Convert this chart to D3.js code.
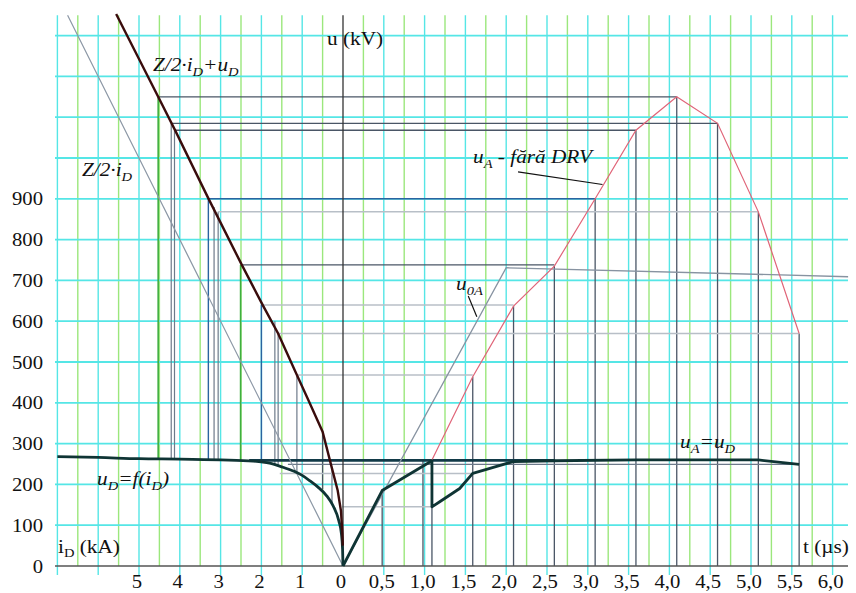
<!DOCTYPE html>
<html>
<head>
<meta charset="utf-8">
<script src="https://cdn.jsdelivr.net/npm/d3@7"></script>
<style>
  body { margin: 0; background: #fff; }
  svg text { font-family: "Liberation Serif", "Times New Roman", serif; fill: #111; }
</style>
</head>
<body>
<svg id="chart" width="856" height="593"></svg>
<script>
// ---------------- data (i in kA, t in us, u in kV) ----------------
var uTicks = [0, 100, 200, 300, 400, 500, 600, 700, 800, 900];
var iTicks = [5, 4, 3, 2, 1, 0];
var tTicks = [0.5, 1, 1.5, 2, 2.5, 3, 3.5, 4, 4.5, 5, 5.5, 6];
var tTickLabels = ["0,5", "1,0", "1,5", "2,0", "2,5", "3,0", "3,5", "4,0", "4,5", "5,0", "5,5", "6,0"];

// u_D = f(i_D)
var uD = [[7.0, 268], [6, 266], [5, 263], [4, 262], [3, 260], [2.2, 257], [1.8, 252], [1.5, 243],
          [1.2, 232], [1.0, 222], [0.8, 208], [0.62, 194], [0.4, 172], [0.24, 147], [0.1, 110],
          [0.04, 80], [0.01, 40], [0, 0]];
// Z/2*i_D + u_D
var sumCurve = [[5.56, 1353], [4.53, 1150], [4.12, 1069], [3.30, 901], [2.48, 738], [1.97, 640],
                [1.59, 570], [1.13, 468], [0.85, 407], [0.5, 329], [0.28, 243], [0.13, 185],
                [0.05, 135], [0.015, 80], [0.005, 50]];
// Z/2*i_D
var zLine = [[0, 0], [6.75, 1350]];
// u_0A
var u0A = [[0, 0], [2.0, 731], [6.19, 709]];
// u_A without DRV
var uA = [[1.09, 260], [1.59, 464], [2.09, 637], [2.59, 735], [3.09, 900], [3.59, 1068],
          [4.09, 1150], [4.59, 1085], [5.09, 868], [5.59, 570]];
// u_A = u_D
var uAD = [[0, 0], [0.48, 185], [1.09, 258], [1.09, 145], [1.19, 158], [1.43, 190], [1.59, 227],
           [2.09, 256], [2.6, 258], [3.6, 260], [5.09, 260], [5.59, 249]];

// construction: horizontal [u, i left, t right, kind]
var hLines = [
  [1150, 4.53, 4.09, "dark"], [1085, 4.21, 4.59, "dark"], [1068, 4.13, 3.59, "dark"],
  [900, 3.30, 3.09, "blue"], [868, 3.06, 5.09, "light"], [738, 2.48, 2.59, "dark"],
  [640, 1.97, 2.09, "light"], [570, 1.59, 5.59, "light"], [468, 1.13, 1.59, "light"],
  [249, 1.35, 5.59, "mid"], [227, 1.55, 1.59, "light"], [145, 0.02, 1.09, "light"],
  [259, 2.3, 2.6, "thick"]
];
// construction: left verticals [i, u top, u bottom, kind]
var vLeft = [
  [4.53, 1150, 262, "green"], [4.21, 1085, 262, "mid"], [4.13, 1068, 262, "mid"],
  [3.30, 901, 260, "blue"], [3.16, 880, 260, "mid"], [3.06, 868, 260, "mid"],
  [2.51, 738, 258, "green"], [2.0, 640, 256, "blue"], [1.67, 600, 250, "mid"],
  [1.59, 570, 247, "mid"], [1.13, 468, 228, "mid"], [0.5, 329, 188, "dark"],
  [0.27, 243, 150, "mid"]
];
// construction: right verticals [t, u top] down to the time axis
var vRight = [[0.48, 185], [0.98, 258], [1.09, 260], [1.59, 464], [2.09, 637], [2.59, 735],
              [3.09, 900], [3.59, 1068], [4.09, 1150], [4.59, 1085], [5.09, 868], [5.59, 570]];

// ---------------- scales ----------------
var cell = 40.8;
var x0 = 343, y0 = 566;
var xi = d3.scaleLinear().domain([0, 7]).range([x0, x0 - 7 * cell]);
var xt = d3.scaleLinear().domain([0, 6]).range([x0, x0 + 12 * cell]);
var y = d3.scaleLinear().domain([0, 1350]).range([y0, y0 - 13.5 * cell]);
var yTop = y(1350);
var stretch = 1.12;   // text in the picture is a bit wider than plain Times

var svg = d3.select("#chart");

var colors = {
  dark: "#4a5666", mid: "#6d7a8a", light: "#b8bfc7", blue: "#2a64a0",
  green: "#3fae3f", thick: "#123a48"
};
var widths = { dark: 1.3, mid: 1.2, light: 1.5, blue: 1.4, green: 1.6, thick: 2.6 };

// ---------------- grid ----------------
var g = svg.append("g");
var greenI = d3.range(0.5, 7, 1), greenT = d3.range(0.25, 6, 0.5);
greenI.forEach(function(v) {
  g.append("line").attr("x1", xi(v)).attr("x2", xi(v)).attr("y1", yTop).attr("y2", y0)
    .attr("stroke", "#9be77c").attr("stroke-width", 1.4);
});
greenT.forEach(function(v) {
  g.append("line").attr("x1", xt(v)).attr("x2", xt(v)).attr("y1", yTop).attr("y2", y0)
    .attr("stroke", "#9be77c").attr("stroke-width", 1.4);
});
d3.range(1, 8).forEach(function(v) {
  g.append("line").attr("x1", xi(v)).attr("x2", xi(v)).attr("y1", yTop).attr("y2", y0 + 9)
    .attr("stroke", "#55e6e6").attr("stroke-width", 1.4);
});
d3.range(0.5, 6.01, 0.5).forEach(function(v) {
  g.append("line").attr("x1", xt(v)).attr("x2", xt(v)).attr("y1", yTop).attr("y2", y0 + 9)
    .attr("stroke", "#55e6e6").attr("stroke-width", 1.4);
});
d3.range(100, 1301, 100).forEach(function(v) {
  g.append("line").attr("x1", 55).attr("x2", 848).attr("y1", y(v)).attr("y2", y(v))
    .attr("stroke", "#55e6e6").attr("stroke-width", 1.8);
});

// ---------------- construction lines ----------------
var c = svg.append("g").attr("fill", "none");
vRight.forEach(function(d) {
  c.append("line").attr("x1", xt(d[0])).attr("x2", xt(d[0])).attr("y1", y(d[1])).attr("y2", y0)
    .attr("stroke", colors.dark).attr("stroke-width", 1.3);
});
vLeft.forEach(function(d) {
  c.append("line").attr("x1", xi(d[0])).attr("x2", xi(d[0])).attr("y1", y(d[1])).attr("y2", y(d[2]))
    .attr("stroke", colors[d[3]]).attr("stroke-width", widths[d[3]]);
});
hLines.forEach(function(d) {
  c.append("line").attr("x1", xi(d[1])).attr("x2", xt(d[2])).attr("y1", y(d[0])).attr("y2", y(d[0]))
    .attr("stroke", colors[d[3]]).attr("stroke-width", widths[d[3]]);
});

// ---------------- axes ----------------
svg.append("line").attr("x1", 55).attr("x2", 848).attr("y1", y0).attr("y2", y0)
  .attr("stroke", "#555").attr("stroke-width", 1.6);
svg.append("line").attr("x1", x0).attr("x2", x0).attr("y1", yTop).attr("y2", y0)
  .attr("stroke", "#333").attr("stroke-width", 1.3);

// ---------------- curves ----------------
var lineL = d3.line().x(function(d) { return xi(d[0]); }).y(function(d) { return y(d[1]); });
var lineR = d3.line().x(function(d) { return xt(d[0]); }).y(function(d) { return y(d[1]); });
var lineLs = d3.line().curve(d3.curveMonotoneX).x(function(d) { return xi(d[0]); }).y(function(d) { return y(d[1]); });

svg.append("path").attr("d", lineL(zLine)).attr("fill", "none")
  .attr("stroke", "#8a96a4").attr("stroke-width", 1.2);
svg.append("path").attr("d", lineR(u0A)).attr("fill", "none")
  .attr("stroke", "#8793a1").attr("stroke-width", 1.3);
svg.append("path").attr("d", lineLs(uD)).attr("fill", "none")
  .attr("stroke", "#0f3434").attr("stroke-width", 2.8);
svg.append("path").attr("d", lineL(sumCurve)).attr("fill", "none")
  .attr("stroke", "#3a0c0c").attr("stroke-width", 2.4);
svg.append("path").attr("d", lineR(uA)).attr("fill", "none")
  .attr("stroke", "#e06478").attr("stroke-width", 1.2);
svg.append("path").attr("d", lineR(uAD)).attr("fill", "none")
  .attr("stroke", "#0f3434").attr("stroke-width", 2.8).attr("stroke-linejoin", "round");

// text placed at (x, y) and stretched a little horizontally
function txt(x, yy, size, anchor) {
  return svg.append("text")
    .attr("transform", "translate(" + x + "," + yy + ") scale(" + stretch + ",1)")
    .attr("font-size", size).attr("text-anchor", anchor || "start");
}

// ---------------- tick labels ----------------
uTicks.forEach(function(v) {
  txt(43, y(v) + 6.5, 18.5, "end").text(v);
});
iTicks.forEach(function(v) {
  txt(xi(v) - 2, 588, 18.5, "middle").text(v);
});
tTicks.forEach(function(v, k) {
  txt(xt(v) - 2, 588, 18.5, "middle").text(tTickLabels[k]);
});

// ---------------- axis titles ----------------
txt(327, 45, 19).text("u (kV)");
var iT = txt(58, 553, 19);
iT.append("tspan").text("i");
iT.append("tspan").attr("font-size", 13).attr("dy", 4).text("D");
iT.append("tspan").attr("dy", -4).text(" (kA)");
txt(803, 553, 19).text("t (\u00b5s)");

// ---------------- curve labels ----------------
function label(x, yy, parts) {
  var el = txt(x, yy, 19).attr("font-style", "italic");
  var sub = false;
  parts.forEach(function(p) {
    var isSub = p[1];
    var ts = el.append("tspan").text(p[0]);
    if (isSub && !sub) ts.attr("dy", 5).attr("font-size", 13);
    else if (isSub) ts.attr("font-size", 13);
    else if (!isSub && sub) ts.attr("dy", -5);
    sub = isSub;
  });
}
label(153, 71, [["Z/2\u00b7i", false], ["D", true], ["+u", false], ["D", true]]);
label(82, 176, [["Z/2\u00b7i", false], ["D", true]]);
label(473, 163, [["u", false], ["A", true], [" - f\u0103r\u0103 DRV", false]]);
label(456, 290, [["u", false], ["0A", true]]);
label(680, 448, [["u", false], ["A", true], ["=u", false], ["D", true]]);
label(97, 485, [["u", false], ["D", true], ["=f(i", false], ["D", true], [")", false]]);

// leader lines
svg.append("line").attr("x1", xt(2.145)).attr("y1", y(966)).attr("x2", xt(3.18)).attr("y2", y(935))
  .attr("stroke", "#111").attr("stroke-width", 1.2);
svg.append("line").attr("x1", xt(1.535)).attr("y1", y(662)).attr("x2", xt(1.64)).attr("y2", y(611))
  .attr("stroke", "#111").attr("stroke-width", 1.2);
</script>
</body>
</html>
